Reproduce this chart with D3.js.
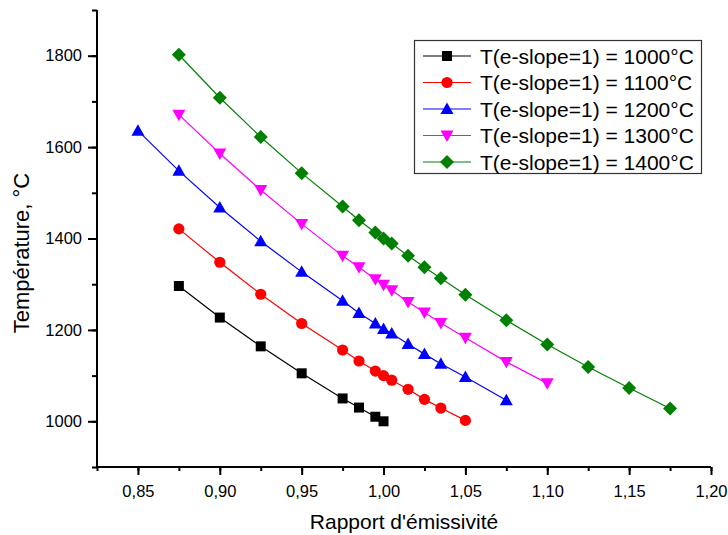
<!DOCTYPE html>
<html>
<head>
<meta charset="utf-8">
<script src="https://cdn.jsdelivr.net/npm/d3@7"></script>
<style>
  html, body { margin: 0; padding: 0; background: #fff; }
  svg { display: block; font-family: "Liberation Sans", Arial, sans-serif; }
</style>
</head>
<body>
<svg id="chart" width="728" height="535"></svg>
<script>
// Emissivity ratio vs temperature, one curve per reference temperature
const ratio1000 = [0.875, 0.90, 0.925, 0.95, 0.975, 0.985, 0.995, 1.0];
const temp1000  = [1296, 1227, 1164, 1105, 1050, 1030, 1010, 1000];

const ratio1100 = [0.875, 0.90, 0.925, 0.95, 0.975, 0.985, 0.995, 1.0, 1.005, 1.015, 1.025, 1.035, 1.05];
const temp1100  = [1421, 1348, 1278, 1214, 1156, 1132, 1110, 1100, 1090, 1070, 1048, 1029, 1002];

const ratio1200 = [0.85, 0.875, 0.90, 0.925, 0.95, 0.975, 0.985, 0.995, 1.0, 1.005, 1.015, 1.025, 1.035, 1.05, 1.075];
const temp1200  = [1636, 1548, 1468, 1394, 1327, 1264, 1237, 1214, 1202, 1192, 1169, 1147, 1126, 1097, 1046];

const ratio1300 = [0.875, 0.90, 0.925, 0.95, 0.975, 0.985, 0.995, 1.0, 1.005, 1.015, 1.025, 1.035, 1.05, 1.075, 1.10];
const temp1300  = [1671, 1586, 1506, 1432, 1362, 1337, 1311, 1299, 1287, 1261, 1238, 1215, 1183, 1130, 1083];

const ratio1400 = [0.875, 0.90, 0.925, 0.95, 0.975, 0.985, 0.995, 1.0, 1.005, 1.015, 1.025, 1.035, 1.05, 1.075, 1.10, 1.125, 1.15, 1.175];
const temp1400  = [1802, 1708, 1622, 1543, 1470, 1440, 1413, 1400, 1389, 1362, 1337, 1313, 1277, 1221, 1168, 1119, 1073, 1028];

const seriesNames = [
  "T(e-slope=1) = 1000°C",
  "T(e-slope=1) = 1100°C",
  "T(e-slope=1) = 1200°C",
  "T(e-slope=1) = 1300°C",
  "T(e-slope=1) = 1400°C"
];
const seriesColors = ["#000000", "#ff0000", "#0000ff", "#ff00ff", "#008000"];
const seriesSymbols = ["square", "circle", "triangleUp", "triangleDown", "diamond"];

const xTicks = [0.85, 0.90, 0.95, 1.00, 1.05, 1.10, 1.15, 1.20];
const yTicks = [1000, 1200, 1400, 1600, 1800];

const series = [
  { x: ratio1000, y: temp1000 },
  { x: ratio1100, y: temp1100 },
  { x: ratio1200, y: temp1200 },
  { x: ratio1300, y: temp1300 },
  { x: ratio1400, y: temp1400 }
].map((s, i) => ({
  name: seriesNames[i],
  color: seriesColors[i],
  symbol: seriesSymbols[i],
  points: s.x.map((v, j) => ({ x: v, y: s.y[j] }))
}));

const svg = d3.select("#chart");
const plotLeft = 97, plotRight = 711, plotTop = 10, plotBottom = 467;

const x = d3.scaleLinear().domain([0.825, 1.20]).range([plotLeft, plotRight]);
const y = d3.scaleLinear().domain([900, 1900]).range([plotBottom, plotTop]);

const fmtX = d => d3.format(".2f")(d).replace(".", ",");

// Symbol path generator, centred on (0,0)
function symbolPath(kind) {
  switch (kind) {
    case "square": return "M-5,-5H5V5H-5Z";
    case "circle": return d3.symbol(d3.symbolCircle, Math.PI * 5.6 * 5.6)();
    case "triangleUp": return "M0,-6.5L6.5,5L-6.5,5Z";
    case "triangleDown": return "M0,6.5L6.5,-5L-6.5,-5Z";
    case "diamond": return "M0,-7L7,0L0,7L-7,0Z";
  }
}

// Axes
const xMinor = d3.range(0, 16).map(i => 0.825 + i * 0.025);
const yMinor = d3.range(900, 1901, 100);

const gx = svg.append("g").attr("transform", `translate(0,${plotBottom})`);
gx.call(d3.axisBottom(x).tickValues(xMinor).tickSize(4).tickFormat(""))
  .call(g => g.select(".domain").remove());
gx.append("g").call(d3.axisBottom(x).tickValues(xTicks).tickSize(8).tickPadding(10).tickFormat(fmtX))
  .call(g => g.select(".domain").remove())
  .call(g => g.selectAll("text").attr("font-size", 16.5).attr("fill", "#000").attr("font-family", "Liberation Sans, Arial, sans-serif"));
gx.selectAll("line").attr("stroke", "#000").attr("stroke-width", 2);

const gy = svg.append("g").attr("transform", `translate(${plotLeft},0)`);
gy.call(d3.axisLeft(y).tickValues(yMinor).tickSize(5).tickFormat(""))
  .call(g => g.select(".domain").remove());
gy.append("g").call(d3.axisLeft(y).tickValues(yTicks).tickSize(9).tickPadding(6).tickFormat(d3.format("d")))
  .call(g => g.select(".domain").remove())
  .call(g => g.selectAll("text").attr("font-size", 16.5).attr("fill", "#000").attr("font-family", "Liberation Sans, Arial, sans-serif"));
gy.selectAll("line").attr("stroke", "#000").attr("stroke-width", 2);

// Axis lines
svg.append("path")
  .attr("d", `M${plotLeft},${plotTop}V${plotBottom}H${plotRight}`)
  .attr("fill", "none").attr("stroke", "#000").attr("stroke-width", 2);

// Axis titles
svg.append("text")
  .attr("x", (plotLeft + plotRight) / 2).attr("y", 529)
  .attr("text-anchor", "middle").attr("font-size", 21).attr("fill", "#000")
  .text("Rapport d'émissivité");

svg.append("text")
  .attr("transform", `translate(29,253) rotate(-90)`)
  .attr("text-anchor", "middle").attr("font-size", 22).attr("fill", "#000")
  .text("Température, °C");

// Series lines and markers
const line = d3.line().x(d => x(d.x)).y(d => y(d.y));
series.forEach(s => {
  svg.append("path")
    .datum(s.points)
    .attr("d", line)
    .attr("fill", "none").attr("stroke", s.color).attr("stroke-width", 1.2);
  svg.append("g").selectAll("path")
    .data(s.points)
    .join("path")
    .attr("transform", d => `translate(${x(d.x)},${y(d.y)})`)
    .attr("d", symbolPath(s.symbol))
    .attr("fill", s.color);
});

// Legend
const lg = svg.append("g");
lg.append("rect")
  .attr("x", 414.5).attr("y", 40.5).attr("width", 287).attr("height", 133)
  .attr("fill", "#fff").attr("stroke", "#333").attr("stroke-width", 1.2);
const rowY = [56, 82.5, 109, 135.5, 162];
series.forEach((s, i) => {
  const ry = rowY[i];
  lg.append("line").attr("x1", 423).attr("x2", 471).attr("y1", ry).attr("y2", ry)
    .attr("stroke", s.color).attr("stroke-width", 1.2);
  lg.append("path").attr("transform", `translate(447,${ry})`)
    .attr("d", symbolPath(s.symbol)).attr("fill", s.color);
  lg.append("text").attr("x", 480).attr("y", ry + 7.5)
    .attr("font-size", 21).attr("fill", "#000").text(s.name);
});
</script>
</body>
</html>
